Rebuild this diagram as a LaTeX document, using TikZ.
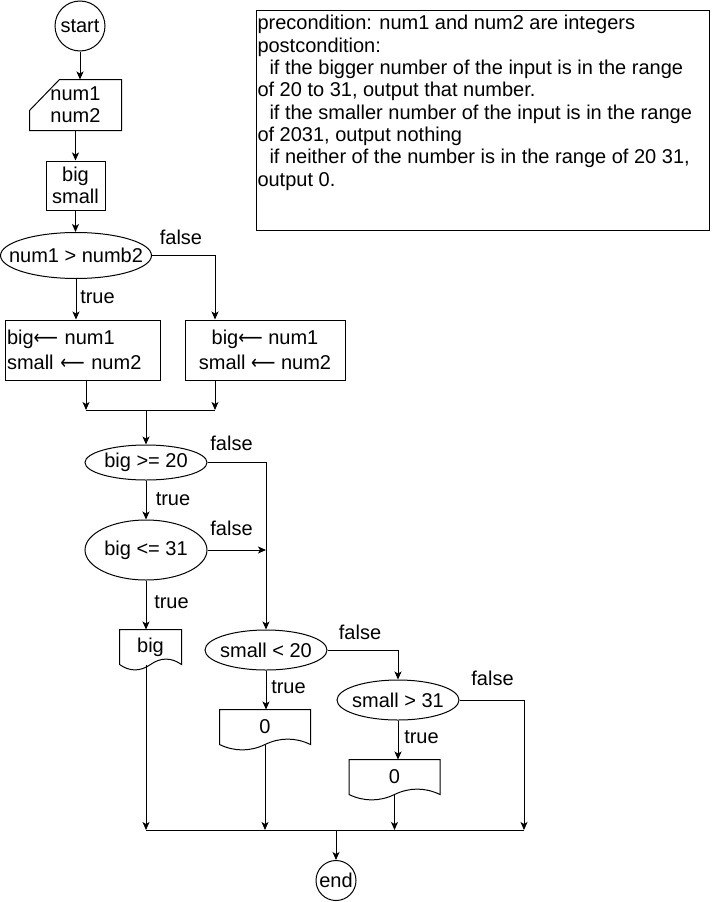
\documentclass[tikz,border=0pt]{standalone}
\usepackage{fontspec}
\setmainfont{Liberation Sans}
\newfontfamily\arrowfont{DejaVu Sans}
\usepackage{tikz}
\usetikzlibrary{arrows.meta, calc}

\newcommand{\assignto}{\scalebox{0.85}[1]{\arrowfont ⟵}}

\begin{document}
\begin{tikzpicture}[x=1pt, y=-1pt, line width=1pt]

    \tikzset{%
        every node/.style={font=\fontsize{20}{22.3}\selectfont, inner sep=1pt},
        terminal/.style={draw, circle, minimum size=#1},
        process/.style args={#1/#2}{draw, rectangle, minimum width=#1, minimum height=#2},
        decision/.style args={#1/#2}{rectangle, minimum width=#1, minimum height=#2},
        docbox/.style={rectangle, minimum width=#1, minimum height=34pt},
        lbl/.style={inner sep=0pt},
        arr/.style={-{Stealth[length=8pt, width=7pt, inset=2pt]}}
    }

    \useasboundingbox (0, 0) rectangle (712, 902);

    \node (start) [terminal=50pt] at (80, 26) {start};
    \node (input) [minimum width=91pt, minimum height=50pt, align=center] at (75.5, 105) {num1\\num2};
    \node (vars) [process=59pt/49pt, align=center] at (75.5, 185.5) {big\\small};
    \node (cmp) [decision=151pt/46pt] at (76, 255.5) {num1 > numb2};
    \node (swapA) [process=155pt/60pt, align=left, text width=151pt, inner xsep=2pt] at (82.5, 350) {big\assignto\ num1\\[2.7pt]small \assignto\ num2};
    \node (swapB) [process=160pt/60pt, align=center] at (265, 350) {big\assignto\ num1\\[2.7pt]small \assignto\ num2};
    \node (rng1) [decision=122pt/35pt] at (146, 462.5) {big >= 20};
    \node (rng2) [decision=122pt/60pt] at (146, 550) {big <= 31};
    \node (outBig) [docbox=61pt] at (150.5, 647) {big};
    \node (lo1) [decision=122pt/40pt] at (266, 650) {small < 20};
    \node (zeroA) [docbox=90pt] at (265, 727) {0};
    \node (hi1) [decision=122pt/40pt] at (398, 700) {small > 31};
    \node (zeroB) [docbox=90pt] at (394.5, 777) {0};
    \node (end) [terminal=40pt] at (336, 880.5) {end};

    \node (spec) [draw, anchor=north west, inner sep=1pt] at (256, 10) {\parbox[t][218pt][t]{451pt}{%
            \vspace*{4pt}%
            precondition: num1 and num2 are integers\\
            postcondition:\\
            \hspace*{12pt}if the bigger number of the input is in the range\\
            of 20 to 31, output that number.\\
            \hspace*{12pt}if the smaller number of the input is in the range\\
            of 2031, output nothing\\
            \hspace*{12pt}if neither of the number is in the range of 20 31,\\
            output 0.}};

    % outlines
    \draw (input.south west) -- (input.south east) -- (input.north east)
        -- ([xshift=30pt]input.north west) -- ([yshift=20pt]input.south west) -- cycle;
    \foreach \n/\rx/\ry in {cmp/75.5/23, rng1/61/17.5, rng2/61/30, lo1/61/20, hi1/61/20} {%
            \draw (\n.center) ellipse [x radius=\rx, y radius=\ry];
        }
    \foreach \n/\w in {outBig/61, zeroA/90, zeroB/90} {%
            \draw (\n.south east) -- (\n.north east) -- (\n.north west) -- (\n.south west)
                .. controls ($(\n.south west)+(\w/6, 7.2)$) and ($(\n.south)+(-\w/6, 7.2)$) .. (\n.south)
                .. controls ($(\n.south)+(\w/6, -7.2)$) and ($(\n.south east)+(-\w/6, -7.2)$) .. (\n.south east)
                -- cycle;
        }

    % labels
    \node (f1) [lbl] at (181, 237) {false};
    \node (t1) [lbl] at (97.5, 297) {true};
    \node (f2) [lbl] at (231.5, 443) {false};
    \node (t2) [lbl] at (173, 499) {true};
    \node (f3) [lbl] at (231.5, 528) {false};
    \node (t3) [lbl] at (171.5, 602) {true};
    \node (f4) [lbl] at (360, 632) {false};
    \node (t4) [lbl] at (288.5, 687) {true};
    \node (f5) [lbl] at (492.5, 678) {false};
    \node (t5) [lbl] at (421.5, 737) {true};

    \coordinate (joinL) at (86, 410);
    \coordinate (joinR) at (215, 410);
    \coordinate (joinA) at (146, 410);
    \coordinate (joinB) at (336, 830);
    \coordinate (joinE) at (524, 830);

    % connectors
    \draw[arr] (start.south) -- (start.south |- input.north);
    \draw[arr] (input.south) -- (vars.north);
    \draw[arr] (vars.south) -- (vars.south |- cmp.north);
    \draw[arr] (cmp.south) -- (cmp.south |- swapA.north);
    \draw[arr] (cmp.east) -| (joinR |- swapB.north);
    \draw[arr] (swapA.south -| joinL) -- (joinL);
    \draw[arr] (swapB.south -| joinR) -- (joinR);
    \draw (joinL) -- (joinR);
    \draw[arr] (joinA) -- (rng1.north);
    \draw[arr] (rng1.south) -- (rng2.north);
    \draw[arr] (rng1.east) -| (lo1.north);
    \draw[arr] (rng2.east) -- (rng2.east -| lo1.north);
    \draw[arr] (rng2.south) -- (rng2.south |- outBig.north);
    \draw[arr] (lo1.south) -- (lo1.south |- zeroA.north);
    \draw[arr] (lo1.east) -| (hi1.north);
    \draw[arr] (hi1.south) -- (hi1.south |- zeroB.north);
    \draw[arr] (outBig.south -| rng2.south) -- (rng2.south |- joinB);
    \draw[arr] (zeroA.south) -- (zeroA.south |- joinB);
    \draw[arr] (zeroB.south) -- (zeroB.south |- joinB);
    \draw[arr] (hi1.east) -| (joinE);
    \draw (rng2.south |- joinB) -- (joinE);
    \draw[arr] (joinB) -- (end.north);

\end{tikzpicture}
\end{document}
